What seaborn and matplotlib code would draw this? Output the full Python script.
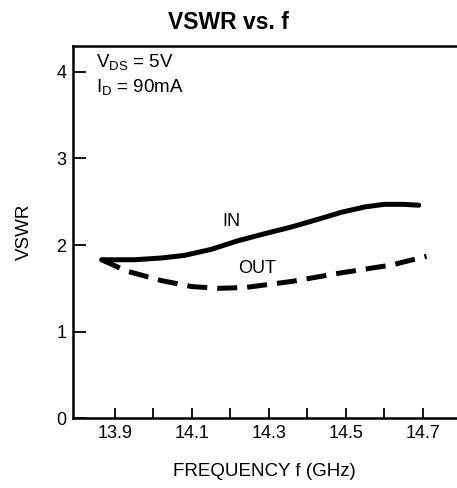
import numpy as np
import pandas as pd
import matplotlib
matplotlib.use('Agg')
import matplotlib.pyplot as plt
import seaborn as sns

# data
freq_in = [13.865, 13.95, 14.02, 14.08, 14.15, 14.22, 14.28, 14.36, 14.43, 14.49, 14.55, 14.6, 14.65, 14.69]
vswr_in = [1.83, 1.83, 1.85, 1.88, 1.95, 2.05, 2.12, 2.21, 2.30, 2.38, 2.44, 2.47, 2.47, 2.46]
freq_out = [13.865, 13.93, 14.02, 14.1, 14.17, 14.24, 14.36, 14.49, 14.62, 14.71]
vswr_out = [1.83, 1.70, 1.59, 1.52, 1.50, 1.51, 1.58, 1.68, 1.77, 1.87]

x_ticks = [13.9, 14.0, 14.1, 14.2, 14.3, 14.4, 14.5, 14.6, 14.7]
x_labels = ['13.9', '', '14.1', '', '14.3', '', '14.5', '', '14.7']
y_ticks = [0, 1, 2, 3, 4]

sns.set_theme(style='ticks')
plt.rcParams['font.family'] = ['Liberation Sans', 'DejaVu Sans']
plt.rcParams['xtick.direction'] = 'in'
plt.rcParams['ytick.direction'] = 'in'
plt.rcParams['text.color'] = 'black'
plt.rcParams['axes.labelcolor'] = 'black'

df_in = pd.DataFrame({'f': freq_in, 'vswr': vswr_in})
df_out = pd.DataFrame({'f': freq_out, 'vswr': vswr_out})

fig = plt.figure(figsize=(4.57, 4.88), dpi=100)
ax = fig.add_axes([0.160, 0.143, 0.838, 0.763])

sns.lineplot(data=df_in, x='f', y='vswr', ax=ax, color='black', lw=3.6,
             solid_capstyle='round')
sns.lineplot(data=df_out, x='f', y='vswr', ax=ax, color='black', lw=3.6,
             linestyle=(0, (4, 2)))

ax.set_xlim(13.791, 14.787)
ax.set_ylim(0, 4.3)
ax.set_xticks(x_ticks)
ax.set_xticklabels(x_labels)
ax.set_yticks(y_ticks)
ax.tick_params(which='both', direction='in', length=7, width=1.3, colors='black',
               labelsize=13, pad=5)
ax.tick_params(axis='y', length=9, pad=5)

for s in ['left', 'bottom', 'top']:
    ax.spines[s].set_linewidth(1.8)
    ax.spines[s].set_color('black')
ax.spines['right'].set_visible(False)

ax.set_xlabel('FREQUENCY f (GHz)', fontsize=13.5, labelpad=15)
ax.set_ylabel('VSWR', fontsize=13.5, labelpad=17)
fig.suptitle('VSWR vs. f', fontsize=16.5, fontweight='bold', x=0.5, y=0.978)

ax.text(13.85, 4.05, r'V$_{\mathregular{DS}}$ = 5V', fontsize=13.5)
ax.text(13.85, 3.76, r'I$_{\mathregular{D}}$ = 90mA', fontsize=13.5)
ax.text(14.18, 2.22, 'IN', fontsize=13)
ax.text(14.22, 1.68, 'OUT', fontsize=13)

fig.savefig('out.png', dpi=100)
